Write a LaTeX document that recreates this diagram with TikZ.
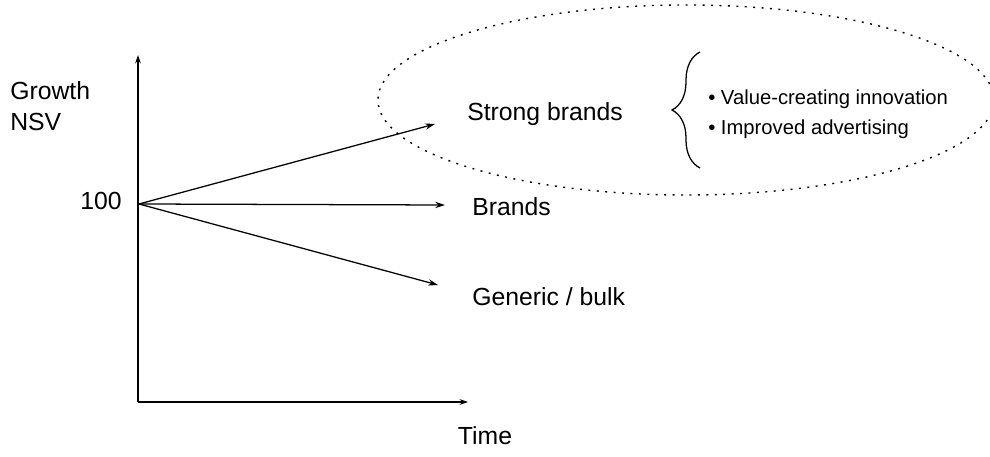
\documentclass[tikz,border=0pt]{standalone}
\usepackage{fontspec}
\setmainfont{Liberation Sans}
\usetikzlibrary{arrows.meta,decorations.pathreplacing}

\begin{document}
\begin{tikzpicture}[x=0.025cm, y=-0.025cm,
	every node/.style={inner sep=0pt, font=\fontsize{17.6}{20}\selectfont},
	small/.style={font=\fontsize{14.4}{17}\selectfont},
	trend/.style={line width=0.9pt, -{Stealth[length=7pt,width=4.5pt]}},
	axis/.style={line width=0.9pt, -{Stealth[length=6pt,width=4pt]}},
	cloud/.style={line width=1pt, dash pattern=on 1.4pt off 4.6pt}]
	\clip (0,0) rectangle (990,457);
	% axes
	\coordinate (corner) at (138,402);
	\coordinate (ytop) at (138,55);
	\coordinate (xend) at (468,402);
	\draw[axis] (corner) -- (ytop);
	\draw[axis] (corner) -- (xend);
	\node[anchor=base west] (growth) at (10,100) {Growth};
	\node[anchor=base west] (nsv) at (10,131) {NSV};
	\node[anchor=base east] (start) at (122,210) {100};
	\node (time) at (485,436) {Time};
	% trends
	\coordinate (o) at (139,204);
	\coordinate (tipstrong) at (435,124);
	\coordinate (tipbrand) at (445,205);
	\coordinate (tipbulk) at (438,285);
	\draw[trend] (o) -- (tipstrong);
	\draw[trend] (o) -- (tipbrand);
	\draw[trend] (o) -- (tipbulk);
	\node[anchor=base west] (strong) at (467,121) {Strong brands};
	\node[anchor=base west] (brands) at (472,216) {Brands};
	\node[anchor=base west] (bulk) at (472,306) {Generic / bulk};
	% levers
	\node[small, anchor=base west] (innov) at (708,105) {• Value-creating innovation};
	\node[small, anchor=base west] (advert) at (708,135) {• Improved advertising};
	\draw[line width=0.9pt, decorate, decoration={brace, amplitude=0.7cm}]
		(700,168) -- (700,52);
	\draw[cloud] (686,100) ellipse [x radius=7.7cm, y radius=2.375cm];
\end{tikzpicture}
\end{document}
